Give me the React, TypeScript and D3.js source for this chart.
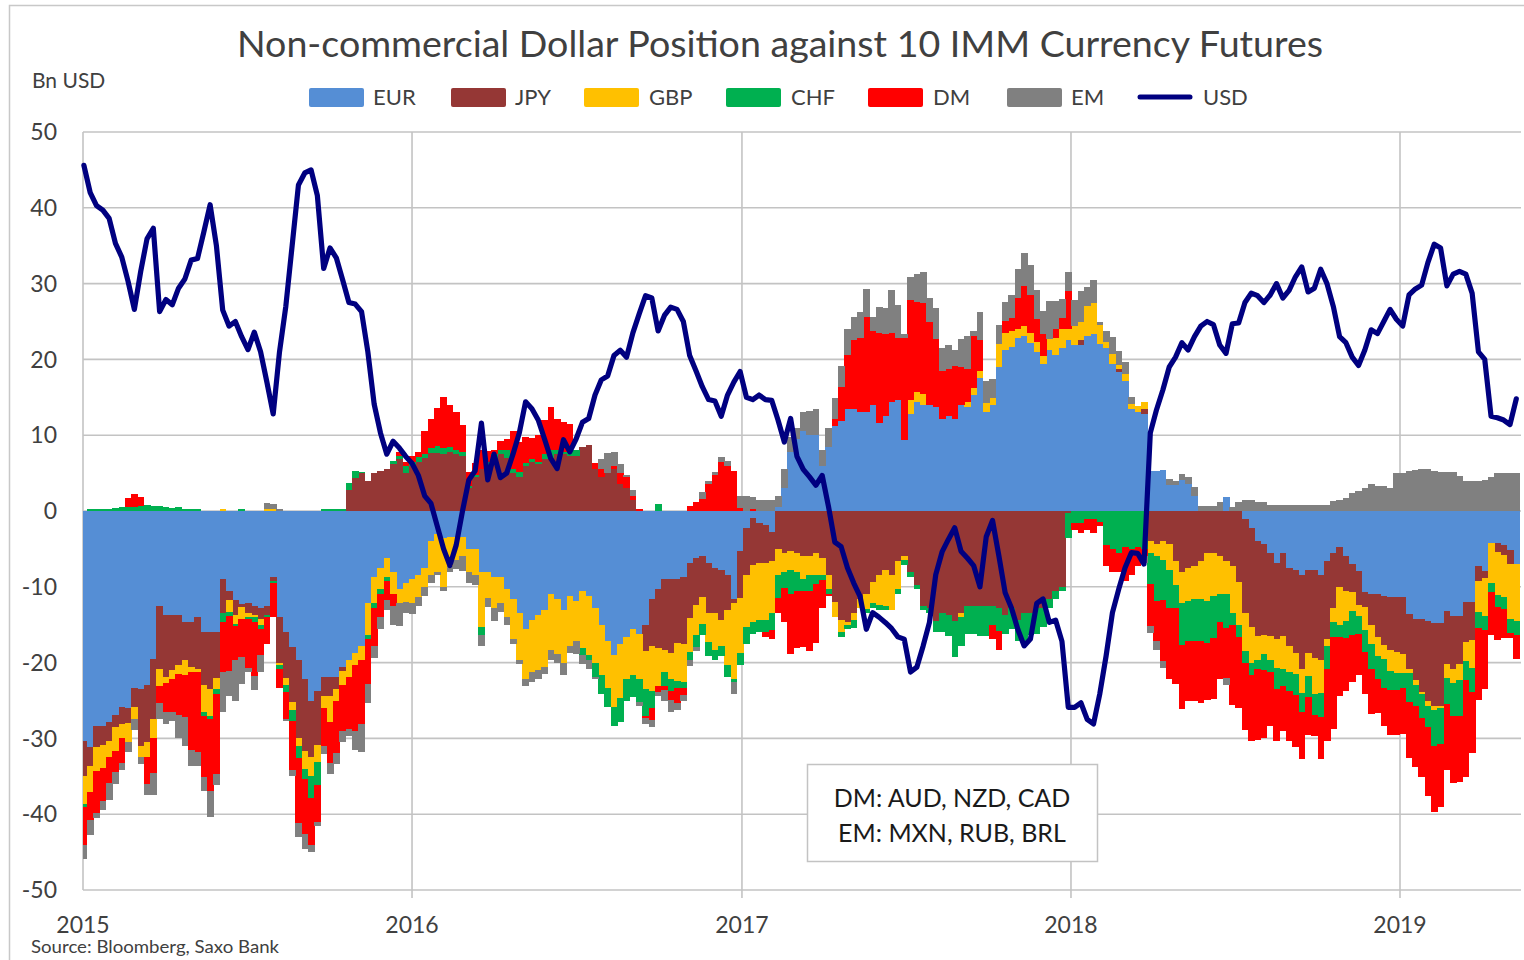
import React from "react";
import * as d3 from "d3";

// weekly CFTC positions, bn USD, first report week
const WEEK_START = "2015-01-02";

const EUR = [
  -30.3, -31.2, -28.4, -28.4, -27.8, -26.9, -25.9, -26, -23.4, -23.5,
  -23, -19.5, -12.5, -13.75, -13.75, -13.75, -14.7, -14.7, -14, -16,
  -16, -16, -9, -10.5, -11.8, -12.3, -12.2, -12.5, -12.8, -12.5,
  -8.75, -14, -16, -18, -19.7, -22.2, -25, -23.7, -21.9, -21.9,
  -21.9, -20.6, -19.7, -18.7, -17.8, -12.2, -8.75, -7.5, -6.2, -8,
  -10.3, -9.5, -9, -8.4, -7.5, -4, -3, -3.5, -3.4, -3.4,
  -3.4, -5, -5, -8.1, -8.1, -8.75, -8.75, -10.3, -11.6, -13.4,
  -15.6, -14.4, -13.75, -13.1, -10.9, -11.6, -13.1, -11.25, -11.9, -10.6,
  -11.25, -12.8, -15, -17.2, -19, -17.5, -16.6, -15.6, -16.25, -15,
  -11.6, -10.3, -9, -9, -9, -8.75, -6.9, -6.2, -5.9, -6.9,
  -7.5, -7.8, -8.4, -11.6, -5.3, -2.2, -0.9, -1.6, -1.9, -2.8,
  0.5, 3, 7.8, 9.5, 10.5, 10, 10, 5.9, 8.4, 11.25,
  11.9, 13.4, 13.4, 13.1, 13.1, 14, 11.6, 12.5, 14.4, 14.7,
  9.4, 12.8, 14.4, 14, 14, 13.75, 12.2, 12.5, 12.2, 14,
  13.75, 15.3, 17.5, 13, 14, 19, 21.25, 21.6, 22.8, 23.1,
  22.2, 21, 19.4, 21.25, 20.6, 21.5, 22.5, 21.9, 21.9, 23.1,
  23.4, 22, 21.5, 19.4, 18.4, 17.2, 13.5, 13.1, 12.8, 5.3,
  5.3, 5.4, 3.4, 3.4, 4.1, 3.5, 2, 0, 0, 0,
  0, 1.8, 0, 0, -1, -2.2, -4, -4.4, -5.6, -6.9,
  -5.6, -7.5, -7.8, -8.4, -7.8, -7.8, -8.4, -6.6, -5.6, -4.7,
  -6, -7, -7.9, -10.75, -11, -11, -11.25, -11.4, -11.4, -11.4,
  -13.6, -14.2, -14.2, -14.5, -14.8, -14.8, -13.25, -13.9, -13.9, -12,
  -12, -7.3, -7.9, -4.2, -4.2, -4.5, -5.1, -7,
];

const JPY = [
  -4.7, -2.5, -2.8, -2.5, -2.5, -1.6, -2.2, -2, -2.5, -7.5,
  -7.5, -8, -8.4, -8.1, -7.2, -6.6, -5, -5.9, -6.9, -7,
  -7.5, -6, -4.4, -1.2, -1.9, -0.3, -1.2, -1.2, -1.4, -1.2,
  -0.5, -6, -6, -7.2, -10.3, -9.4, -7.5, -7.2, -2.5, -2.5,
  -1.6, -0.5, 2.8, 4.4, 5, 4, 5, 5.3, 5.6, 6.25,
  6.9, 5, 5.9, 6.5, 7, 7.7, 7.7, 7.5, 7.8, 7.5,
  7.2, 3, 4.5, 5.5, 5.9, 6.9, 7.5, 7, 5, 4.5,
  6, 6.5, 6.2, 6.9, 7, 7.5, 7.5, 7.2, 7.2, 8.4,
  8.7, 5.5, 4.5, 5, 5.5, 3.5, 3, 1.5, 0, -3.5,
  -6.25, -7.8, -9.4, -9.7, -8.4, -8.75, -7.2, -6.2, -5.5, -6.6,
  -5.9, -6.6, -4.7, -0.5, -6.2, -6.25, -6.25, -5.3, -5, -3.75,
  -5, -5.6, -5.3, -5.6, -6, -6, -5.6, -6.25, -8.4, -12,
  -14.4, -14.7, -13.4, -11.6, -10.9, -9.4, -8.4, -7.8, -8.4, -6.6,
  -5.9, -8.1, -9.7, -12.5, -12.8, -14.5, -13.4, -13.75, -14.5, -13.4,
  -12.5, -12.5, -12.5, -12.5, -12.5, -12.8, -13.75, -12.8, -14.4, -13.4,
  -13.4, -12.8, -12.8, -11.6, -10.6, -10, -0.3, 0, 0.6, 0,
  0, 0, 0, 0, 0.3, 0, 0, 0, 0.6, -4,
  -4.4, -4, -4.4, -6.6, -8.1, -7.5, -7.2, -6.6, -5.6, -5.6,
  -5.9, -6.6, -7.2, -9.4, -12.5, -13.1, -12.5, -11.9, -10.9, -10,
  -10.9, -10.3, -10.9, -12.5, -10.9, -11.6, -11.25, -10.3, -7.2, -5.3,
  -4.5, -3.75, -4.5, -1.9, -4, -5.6, -6.4, -6.9, -7.2, -7.5,
  -7.2, -8.1, -9.7, -10.6, -10.9, -10.9, -6.9, -6.9, -6.25, -5.3,
  -5, -1.9, -0.9, 0, -1.25, -1.25, -1.9, 0,
];

const GBP = [
  -3.7, -3.4, -3.1, -3, -2.2, -3.1, -1.9, -2.5, -1.5, -1.5,
  -2, -2.5, -2.2, -0.9, -1.2, -1.2, -1.9, -0.6, -0.3, -3.5,
  -3.5, -1.5, 0.3, -1.6, -1.2, -1.6, -0.6, -0.3, -0.8, 0.3,
  0.3, -0.3, -0.9, -1, -1, -2.5, -2.5, -2.2, -1.6, -3.4,
  -1.6, -1.9, -2.2, -1.6, -1.9, -4.1, -3.4, -2.8, -2.5, -3,
  -1.9, -2.5, -3.1, -3, -2.5, -4.5, -5, -6.5, -3.8, -3,
  -2.5, -3, -3.4, -7.2, -3.4, -4, -3.4, -3.75, -5.3, -6.2,
  -6.6, -6.9, -7.2, -7.5, -7.5, -7.2, -6.9, -6.6, -5.3, -7.5,
  -7.8, -7.2, -6.6, -6.2, -6.9, -7.2, -5.6, -6, -5.9, -5,
  -5.9, -5, -2.8, -3.4, -5, -5, -4.5, -4, -3.5, -3.75,
  -5, -3.4, -7.2, -10, -7.2, -6.9, -7.5, -7.5, -7.5, -6.9,
  -3.5, -2.5, -2.5, -2.5, -3, -2.5, -2.8, -2.2, -1.9, -2,
  -1.6, -0.3, -1, -1.2, -2, -2.8, -4, -4.7, -4.7, -3.75,
  -0.6, 1.9, 1.25, 1.5, 0, 0, 0, 0, 0, -0.6,
  0.6, 0.9, 1, 1.3, 0.9, 3, 2.2, 2.2, 1.25, 1.25,
  1.25, 1.25, 1, 1.5, 2.2, 2.5, 1.5, 2.5, 2.5, 4,
  4, 2.5, 0.8, 1.3, 0.6, 0.9, 0.6, 0.8, 1, -1.6,
  -1.6, -2.5, -3.4, -3.1, -4, -4.4, -4.4, -5, -6.25, -5.6,
  -5, -4.4, -6.2, -5.6, -5, -4.7, -3.1, -2.5, -3.1, -3.75,
  -4.4, -3.4, -2.8, -3.1, -3.1, -4.7, -4.4, -0.9, -1.9, -5,
  -4, -2.5, -1.5, -3.1, -2.5, -2.5, -1.9, -2.8, -2.8, -2.5,
  -0.6, -0.6, -0.3, -0.6, -0.6, -0.3, -1.9, -1.9, -2.2, -2.5,
  -3.75, -4.1, -5, -5.3, -5.6, -5.6, -7.2, -7.5,
];

const CHF = [
  -0.4, 0.2, 0.3, 0.3, 0.3, 0.4, 0.5, 0.5, 0.5, 0.6,
  0.8, 0.6, 0.6, 0.5, 0.4, 0.5, 0.3, 0.3, 0.3, -0.6,
  -0.5, -0.7, -1.2, -0.6, -0.3, 0.3, -0.3, -0.6, -0.6, -0.3,
  -0.3, -0.6, -1, -1.5, -1.6, -1.3, -2.8, -3.1, 0.2, 0.2,
  0.2, 0.3, 0.9, 0.9, 0.2, -0.6, -0.6, -0.6, -0.5, 0.3,
  0.3, 0.9, 0.6, 0.6, 0.5, 0.6, 0.9, 0.8, 0.6, 0.6,
  0.6, 0.3, 0.3, -1, 0.5, 0.6, 0.6, 1, 0.6, 0.6,
  0.3, 0.3, 0.3, 0.6, 1, 0.6, 0.3, 0.9, 0.9, -0.9,
  -0.6, -1.9, -2.5, -2.5, -2.5, -3.1, -2.8, -3, -3.1, -3.5,
  -2.2, 0.9, -1.9, -1.6, -1, -0.8, -1, -1.5, -1.5, -1.9,
  -1.25, -1.3, -1.6, -0.5, -1.6, -2.2, -1.6, -1.6, -1.6, -2.2,
  -3, -2, -3.1, -2.5, -1.5, -2, -1.25, -0.6, -0.6, 0,
  -0.6, -0.6, -1, 0, -0.6, -0.6, -0.6, -0.5, 0, -0.6,
  -0.6, -0.6, -0.6, -0.6, -0.6, -1.5, -2.5, -2.8, -4.7, -3.75,
  -3.75, -3.75, -4, -4, -2.5, -3, -2.5, -2.8, -2.8, -3.75,
  -3, -3.4, -2.5, -1.25, -1, -0.6, -3.3, -1.6, -1.6, -1,
  -1, -1.5, -4.5, -5, -5.5, -4.7, -5, -4.7, -5, -4,
  -5.9, -5.3, -5, -3.1, -5.6, -5.3, -5.6, -5.6, -5.6, -5.6,
  -3.75, -4.4, -1.6, -1.6, -1.6, -1.6, -1.25, -2.2, -1.6, -2.8,
  -2.2, -2.5, -2.8, -2.5, -2.8, -2.8, -3.1, -3.1, -1.9, -1.6,
  -2.2, -3.1, -2.3, -2.8, -3.4, -3.1, -3.75, -2.5, -2.2, -2,
  -3.75, -2.8, -3.1, -2.8, -4.7, -4.7, -3.4, -4.4, -4.7, -2.5,
  -3.1, -2.2, -1.9, -1.25, -1.6, -1.6, -1.9, -1.9,
];

const DM = [
  -5, -3.7, -5.6, -4.4, -3.4, -2.8, -3.3, 1.2, 1.8, 1.2,
  -3.5, -4.5, -2.2, -3.75, -4.4, -5.3, -5.6, -10.3, -10.6, -8,
  -9.5, -10.5, -6.6, -7.2, -4.4, -5, -6.4, -7.2, -3.4, -3.5,
  -4.5, -2.4, -3.5, -6.5, -8.5, -7.2, -6.2, -4.8, -5, -5.5,
  -6.8, -6, -6.9, -8.7, -8.4, -5.9, -5, -3.1, -2.5, -1.5,
  0.6, 0.5, 0.8, 0.7, 3, 3.8, 5, 6.7, 5.6, 5,
  3.5, 1.8, 1.5, 2.5, 1.5, 0.5, 1.2, 1.5, 5, 4,
  3.5, 2.8, 3.5, 4.5, 5.7, 4, 4, 3.4, 0, 0,
  0, 0.8, 1, 0, 0.5, 1.5, 1.5, 0.5, 0.3, -0.3,
  -1.6, -0.8, -0.5, -1.2, -1.9, -1, 0.6, 1.2, 1.6, 3.5,
  4.8, 6.5, 6, 5.3, 0.4, 0, 0.3, 0, -0.6, -1.25,
  -2, -4.5, -8, -7.5, -7.5, -8, -7.8, -3.75, -0.3, 0.9,
  4.4, 7.2, 9.1, 9.7, 12.5, 9.7, 11.9, 10.9, 9.1, 8.1,
  13.4, 13.1, 11.9, 12, 11, 9, 6.25, 6.25, 6.9, 5,
  4.4, 6.9, 4, 0, -1.9, -2.5, 1.6, 1.6, 4.1, 5.3,
  5, 3.1, 3, 0, 1.2, 1.5, 5, -0.9, -1.25, -1.5,
  -1.9, -0.5, -2.8, -3, -2.5, -4.5, -3.4, -2.5, -1, -5.6,
  -5.3, -8, -9.4, -10, -8.4, -7.8, -7.8, -8.1, -7.5, -8,
  -7.5, -6.6, -10.6, -9.4, -8.75, -8.75, -9.4, -9, -7.2, -6.9,
  -5.9, -6.6, -6.9, -6.25, -5, -2.8, -5.6, -9.4, -12.2, -7.8,
  -7, -6.25, -5.5, -5.6, -5.9, -4.4, -5, -5.9, -5.9, -6,
  -7.5, -8.1, -7.8, -9.1, -8.75, -8.4, -8.75, -8.75, -8.75, -12.8,
  -8.1, -9.4, -7.8, -5.6, -4.4, -3.75, -0.6, -3.1,
];

const EM = [
  -1.8, -1.9, -0.6, -1.2, -2.2, -1.6, -0.9, -1.3, -1.5, -0.9,
  -1.5, -3, -2.2, -1.6, -1.2, -3.1, -3.75, -2.2, -1.9, -1.8,
  -3.4, -1.5, -5.3, -3.3, -5.4, -3.6, -0.6, -1.8, -2.2, 0.7,
  0.6, 0.3, -0.3, -0.8, -1.9, -2, -1, -0.6, -1, -1.4,
  -1.5, -1.5, -0.9, -2.5, -3.75, -2.5, -1.6, -1.6, -1.4, -2.5,
  -3, -1.5, -1.5, -1.1, -1.2, -1, -0.5, -0.5, -0.8, -1.2,
  -2, -1.5, -1.3, -1.5, -1.2, -1.8, -1.2, -1, -0.6, -0.6,
  -0.9, -1.2, -1.2, -0.9, -1.2, -1.2, -1.6, -0.9, -1.6, -1.2,
  -1.2, -0.3, 1.3, 2.7, 1.8, 1.2, 0.3, 0.8, -0.5, -0.8,
  -0.9, -0.5, -1.5, -1.6, -1, -0.7, -0.9, -0.6, 0.9, 0.4,
  0.3, 0.6, 0.6, -1.6, 1.6, 2, 1.5, 1.5, 1.5, 1.5,
  1.5, 2.5, 1.9, 1.5, 2.5, 3.2, 3.5, 2.2, 2.5, 2.8,
  2.8, 3.4, 3.1, 3.4, 3.75, 1.9, 3.4, 3.4, 5.6, 4.4,
  0.6, 3.1, 3.75, 4, 3.1, 4, 3.1, 3.1, 2.2, 3.75,
  4.4, 0.6, 3.75, 2.8, 2.5, 2.5, 2.5, 3.1, 3.75, 4.4,
  4, 3.75, 3, 5, 3.75, 2.5, 2.5, 3.4, 4, 2.5,
  3.1, 0.5, 1.5, 2.2, 1.8, 1.6, 1, 0, -0.9, -0.9,
  -1.2, -0.9, 0.8, 0.6, 0.8, 1, 1.2, 0.6, 0.6, 0.6,
  1.2, -0.9, 0.5, 1.2, 1.5, 1.5, 1.2, 1.2, 0.8, 0.8,
  0.8, 0.8, 0.8, 0.8, 0.8, 0.8, 0.8, 0.8, 1.3, 1.5,
  1.75, 2.4, 2.7, 3, 3.6, 3.3, 3.3, 3, 5, 5,
  5.3, 5.4, 5.5, 5.5, 5.3, 5.2, 5.2, 5.2, 4.6, 3.9,
  3.9, 4, 4.1, 4.5, 5, 5, 5, 5,
];

const USD = [
  45.6, 42, 40.3, 39.7, 38.6, 35.3, 33.5, 30.3, 26.6, 31.6,
  35.9, 37.3, 26.3, 27.9, 27.2, 29.4, 30.6, 33.1, 33.3, 36.8,
  40.4, 35, 26.5, 24.4, 25, 23, 21.3, 23.6, 21, 17,
  12.8, 21, 27, 35, 43, 44.6, 45, 41.6, 32, 34.7,
  33.4, 30.5, 27.5, 27.3, 26.3, 21, 14.1, 10.3, 7.5, 9.2,
  8.3, 7.2, 6.3, 4.7, 2, 1, -2, -5, -7.2, -4.5,
  0, 4.1, 5.3, 11.6, 4.1, 7.5, 4.4, 5, 7.5, 10.3,
  14.4, 13.5, 12, 9.5, 6.9, 5.6, 9.4, 7.8, 9.5, 11.7,
  12.2, 15.3, 17.3, 17.8, 20.5, 21.2, 20.3, 23.5, 26, 28.4,
  28.1, 23.75, 25.8, 26.9, 26.6, 25, 20.5, 18.5, 16.4, 14.7,
  14.5, 12.5, 15.3, 17, 18.4, 15, 14.7, 15.3, 14.7, 14.6,
  12, 9.1, 12.2, 7.2, 5.5, 4.5, 3.4, 4.7, 0.6, -4.1,
  -4.7, -7.5, -9.5, -11.25, -15.6, -13.4, -14, -14.7, -15.5, -16.6,
  -16.9, -21.25, -20.6, -17.8, -14.7, -8.4, -5.4, -3.75, -2.2, -5.3,
  -6.2, -7.2, -10, -3.4, -1.25, -5.9, -10.8, -12.8, -15.6, -17.8,
  -16.9, -12.2, -11.6, -14.7, -14.4, -17.2, -25.9, -25.9, -25.3, -27.5,
  -28.1, -24.1, -19.1, -13.4, -10.3, -7.5, -5.5, -5.6, -7, 10.3,
  13.4, 16, 19, 20.3, 22.2, 21.25, 23, 24.4, 25, 24.6,
  21.9, 20.8, 24.7, 24.8, 27.5, 28.75, 28.4, 27.5, 28.5, 30,
  28.1, 29.1, 30.9, 32.2, 28.9, 29.4, 31.9, 30, 27, 23,
  22.2, 20.3, 19.2, 21.25, 23.9, 23.4, 25, 26.6, 25.3, 24.4,
  28.5, 29.3, 29.8, 32.8, 35.2, 34.7, 29.7, 31.25, 31.6, 31.25,
  28.75, 21, 20, 12.5, 12.3, 12, 11.4, 14.8,
];

const SERIES_KEYS = ["EUR", "JPY", "GBP", "CHF", "DM", "EM"];
const Y_TICKS = [50, 40, 30, 20, 10, 0, -10, -20, -30, -40, -50];
const YEAR_TICKS = [2015, 2016, 2017, 2018, 2019];
const NOTE_LINES = ["DM: AUD, NZD, CAD", "EM: MXN, RUB, BRL"];

const COLORS: Record<string, string> = {
  EUR: "#558ED5",
  JPY: "#953735",
  GBP: "#FFC000",
  CHF: "#00B050",
  DM: "#FF0000",
  EM: "#808080",
  USD: "#000080",
};

const FONT = "Lato, 'Open Sans', sans-serif";
const TEXT = "#404040";
const GRID = "#C3C3C3";

export default function App() {
  const width = 1524;
  const height = 960;
  const plot = { left: 83, right: 1521, top: 132, bottom: 890 };

  const start = d3.timeParse("%Y-%m-%d")(WEEK_START) as Date;
  const dates = EUR.map((_, i) => d3.timeWeek.offset(start, i));

  const x = d3
    .scaleTime()
    .domain([new Date(2015, 0, 1), new Date(2019, 0, 1)])
    .range([plot.left, 1400]);
  const y = d3.scaleLinear().domain([-50, 50]).range([plot.bottom, plot.top]);

  const byKey: Record<string, number[]> = { EUR, JPY, GBP, CHF, DM, EM };
  const rows = dates.map((date, i) => {
    const r: any = { date };
    SERIES_KEYS.forEach((k) => (r[k] = byKey[k][i]));
    return r;
  });
  const layers = d3
    .stack<any>()
    .keys(SERIES_KEYS)
    .offset(d3.stackOffsetDiverging)(rows);

  const bw = x(dates[1]) - x(dates[0]);

  const usdLine = d3
    .line<number>()
    .x((_, i) => x(dates[i]))
    .y((v) => y(v))(USD) as string;

  // legend layout
  const legend = [
    { key: "EUR", sx: 309, tx: 373 },
    { key: "JPY", sx: 451, tx: 515 },
    { key: "GBP", sx: 584, tx: 649 },
    { key: "CHF", sx: 726, tx: 791 },
    { key: "DM", sx: 868, tx: 933 },
    { key: "EM", sx: 1007, tx: 1071 },
    { key: "USD", sx: 1138, tx: 1203 },
  ];

  return (
    <div style={{ position: "absolute", left: 0, top: 0 }}>
      <svg width={width} height={height} style={{ display: "block", background: "#fff" }}>
        <defs>
          <clipPath id="plotClip">
            <rect x={plot.left} y={0} width={plot.right - plot.left} height={height} />
          </clipPath>
        </defs>

        <rect x={9.5} y={5.5} width={1540} height={1000} fill="#fff" stroke="#C8C8C8" strokeWidth={1.5} />

        {/* grid */}
        {Y_TICKS.map((t) => (
          <line key={"h" + t} x1={plot.left} x2={plot.right} y1={y(t)} y2={y(t)} stroke={GRID} strokeWidth={1.6} />
        ))}
        {YEAR_TICKS.map((yr) => {
          const xx = x(new Date(yr, 0, 1));
          return (
            <line key={"v" + yr} x1={xx} x2={xx} y1={plot.top} y2={plot.bottom + (yr === 2015 ? 0 : 8)} stroke={GRID} strokeWidth={1.6} />
          );
        })}

        {/* stacked bars */}
        <g clipPath="url(#plotClip)" shapeRendering="crispEdges">
          {layers.map((layer) => (
            <g key={layer.key} fill={COLORS[layer.key]}>
              {layer.map((d, i) => {
                const y0 = y(d[0]);
                const y1 = y(d[1]);
                const h = Math.abs(y0 - y1);
                if (h < 0.01) return null;
                return (
                  <rect
                    key={i}
                    x={x(dates[i]) - bw / 2}
                    y={Math.min(y0, y1)}
                    width={bw + 0.4}
                    height={h}
                  />
                );
              })}
            </g>
          ))}
        </g>

        {/* USD line */}
        <path d={usdLine} fill="none" stroke={COLORS.USD} strokeWidth={5.2} strokeLinejoin="round" strokeLinecap="round" />

        {/* y labels */}
        {Y_TICKS.map((t) => (
          <text key={"yl" + t} x={57} y={y(t)} dy="0.36em" textAnchor="end" fontFamily={FONT} fontSize={23} fill={TEXT}>
            {t}
          </text>
        ))}
        {/* x labels */}
        {YEAR_TICKS.map((yr) => (
          <text key={"xl" + yr} x={x(new Date(yr, 0, 1))} y={933} textAnchor="middle" fontFamily={FONT} fontSize={23} fill={TEXT}>
            {yr}
          </text>
        ))}

        {/* title */}
        <text x={780} y={57} textAnchor="middle" fontFamily={FONT} fontSize={37} fill={TEXT} textLength={1086} lengthAdjust="spacingAndGlyphs">
          Non-commercial Dollar Position against 10 IMM Currency Futures
        </text>
        <text x={32} y={88} fontFamily={FONT} fontSize={21} fill={TEXT}>
          Bn USD
        </text>

        {/* legend */}
        {legend.map((l) => (
          <g key={"lg" + l.key}>
            {l.key === "USD" ? (
              <line x1={l.sx + 2} x2={l.sx + 52} y1={97} y2={97} stroke={COLORS.USD} strokeWidth={5} strokeLinecap="round" />
            ) : (
              <rect x={l.sx} y={88} width={55} height={19} rx={2} fill={COLORS[l.key]} />
            )}
            <text x={l.tx} y={105} fontFamily={FONT} fontSize={22} fill={TEXT}>
              {l.key}
            </text>
          </g>
        ))}

        {/* note box */}
        <rect x={807.5} y={764.5} width={290} height={97} fill="#fff" stroke="#C3C3C3" strokeWidth={1.5} />
        {NOTE_LINES.map((s, i) => (
          <text key={"n" + i} x={952} y={807 + i * 35} textAnchor="middle" fontFamily={FONT} fontSize={25} fill="#1a1a1a">
            {s}
          </text>
        ))}

        {/* source */}
        <text x={31} y={953} fontFamily={FONT} fontSize={18} fill={TEXT} textLength={248} lengthAdjust="spacingAndGlyphs">
          Source: Bloomberg, Saxo Bank
        </text>
      </svg>
    </div>
  );
}
